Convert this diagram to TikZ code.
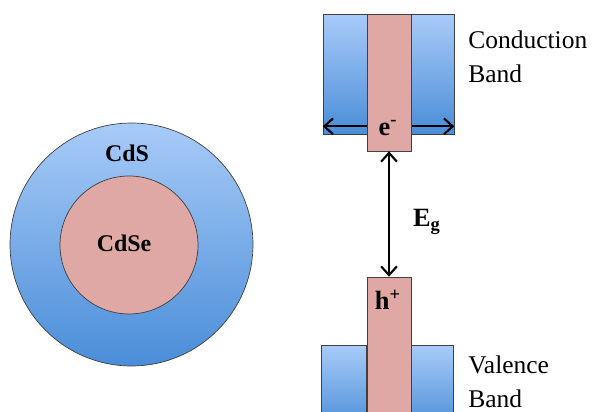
\documentclass[tikz,border=0pt]{standalone}
\usepackage{fontspec}
\setmainfont{Liberation Serif}
\usetikzlibrary{arrows.meta,positioning}

\definecolor{bandtop}{HTML}{A8CBF8}
\definecolor{bandbot}{HTML}{4A8DD8}
\definecolor{corepink}{HTML}{E0A8A4}

\begin{document}
\begin{tikzpicture}[x=0.02cm,y=-0.02cm,>={Straight Barb[length=5pt,width=9pt]},
    band/.style={draw=black!75, top color=bandtop, bottom color=bandbot, inner sep=0pt},
    bar/.style={draw=black!75, fill=corepink, inner sep=0pt},
    bold/.style={font=\fontsize{13.6}{16}\selectfont\bfseries, inner sep=0pt},
    carrier/.style={font=\fontsize{15}{16}\selectfont\bfseries, inner sep=0pt},
    lbl/.style={font=\fontsize{14.5}{19.8}\selectfont, align=left, anchor=base west, inner sep=0pt},
    gap/.style={<->, line width=1.2pt}]

  \clip (0,0) rectangle (593,412);

  % core / shell dot
  \node[circle, band, minimum size=4.86cm] (shell) at (131.5,244.5) {};
  \node[circle, bar, minimum size=2.76cm] (core) at (129,245) {};
  \node[bold] (cds) at (127,153) {CdS};
  \node[bold] (cdse) at (124,243) {CdSe};

  % conduction band
  \node[rectangle, band, minimum width=2.62cm, minimum height=2.4cm] (cband) at (388.5,74) {};
  \draw[gap] ([yshift=0.16cm]cband.south west) -- ([yshift=0.16cm]cband.south east);
  \node[rectangle, bar, minimum width=0.88cm, minimum height=2.74cm] (ebar) at (389,82.5) {};
  \node[carrier] (elec) at (388,128) {e\textsuperscript{-}};

  % valence band
  \node[rectangle, band, minimum width=0.9cm, minimum height=1.7cm] (vleft) at (343.5,387.5) {};
  \node[rectangle, band, minimum width=0.88cm, minimum height=1.7cm] (vright) at (431,387.5) {};
  \node[rectangle, bar, minimum width=0.88cm, minimum height=3.06cm] (hbar) at (389,353.5) {};
  \node[carrier] (hole) at (388,300) {h\textsuperscript{+}};

  % band gap
  \draw[gap] (ebar.south) -- (hbar.north);
  \node[carrier] (eg) at (427,222) {E\textsubscript{g}};

  \node[lbl] (clbl) at (468,83) {Conduction\\Band};
  \node[lbl] (vlbl) at (468,408) {Valence\\Band};
\end{tikzpicture}
\end{document}
